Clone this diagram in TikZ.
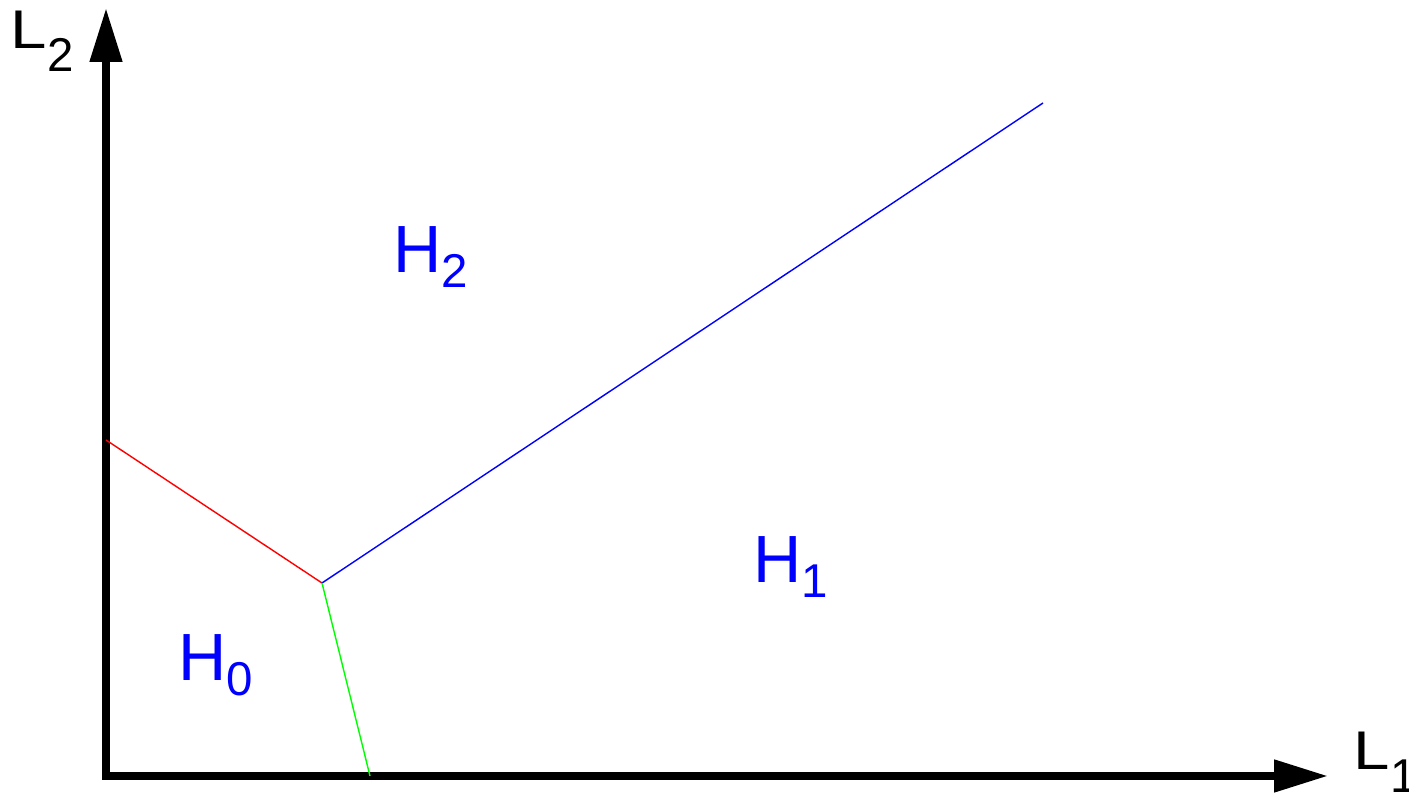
\documentclass[tikz,border=0pt]{standalone}
\usepackage{fontspec}
\setmainfont{Liberation Sans}
\usetikzlibrary{arrows.meta}
\definecolor{RegionBlue}{HTML}{0000FF}
\definecolor{BoundRed}{HTML}{FF0000}
\definecolor{BoundGreen}{HTML}{00FF00}
\definecolor{Ink}{HTML}{000000}

\newcommand{\regionlabel}[2]{{\fontsize{38}{40}\selectfont #1}%
    \raisebox{-3mm}{\fontsize{27}{28}\selectfont #2}}
\newcommand{\axislabel}[2]{\scalebox{1.2}[1]{\fontsize{31}{33}\selectfont #1}%
    \raisebox{-4.6mm}{\fontsize{27}{28}\selectfont #2}}

\begin{document}
\begin{tikzpicture}[
    axis/.style={-{Triangle[length=10.8mm,width=6.2mm]}, line width=4.5pt,
                 draw=Ink},
    boundary/.style={line width=0.8pt},
    region/.style={anchor=base west, inner sep=0pt, text=RegionBlue},
    axis label/.style={anchor=base west, inner sep=0pt, text=Ink}
]
\useasboundingbox (0,0) rectangle (28.18,15.86);

% Axes
\coordinate (origin) at (2.12,0.34);
\coordinate (l2tip) at (2.12,15.70);
\coordinate (l1tip) at (26.56,0.34);
\draw[axis] ([yshift=-2.25pt]origin) -- (l2tip);
\draw[axis] ([xshift=-2.25pt]origin) -- (l1tip);
\node[axis label] (l2) at (0.21,14.88) {\axislabel{L}{2}};
\node[axis label] (l1) at (27.07,0.46) {\axislabel{L}{1}};

% Decision boundaries
\coordinate (redstart) at (2.12,7.06);
\coordinate (junction) at (6.44,4.20);
\coordinate (blueend) at (20.86,13.80);
\coordinate (greenend) at (7.40,0.34);
\draw[boundary, draw=BoundRed] (redstart) -- (junction);
\draw[boundary, draw=RegionBlue] (junction) -- (blueend);
\draw[boundary, draw=BoundGreen] (junction) -- (greenend);

% Regions
\node[region] (h2) at (7.86,10.40) {\regionlabel{H}{2}};
\node[region] (h1) at (15.06,4.20) {\regionlabel{H}{1}};
\node[region] (h0) at (3.56,2.24) {\regionlabel{H}{0}};

\end{tikzpicture}
\end{document}
